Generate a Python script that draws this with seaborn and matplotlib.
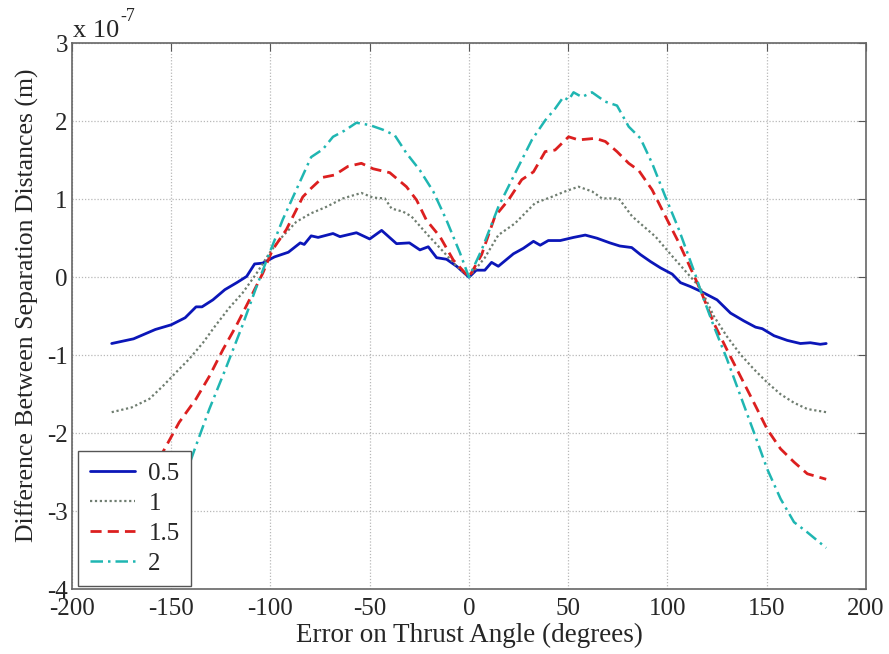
import numpy as np
import seaborn as sns
import matplotlib.pyplot as plt
import pandas as pd

# values, y in units of 1e-7 m
x_05 = [-180, -169, -158, -150, -143, -137.5, -134.5, -129, -123, -117, -112, -108, -104, -98, -91,
        -85, -83, -79.5, -76, -68.5, -65, -56.7, -50, -44, -36.5, -30, -24.7, -20.5, -16.3, -11.3,
        -6.2, 0, 3.7, 8, 11.4, 14.8, 22.4, 27.4, 32.5, 35.9, 40, 46, 52.7, 58.6, 64.5, 71, 76, 82,
        86.4, 91.5, 96.5, 102.4, 106.6, 111.6, 116.7, 125, 131.8, 138.5, 144.4, 147.8, 153.7, 160.4,
        167, 172, 177, 180]
y_05 = [-0.85, -0.79, -0.67, -0.61, -0.52, -0.38, -0.38, -0.29, -0.16, -0.07, 0.01, 0.17, 0.18, 0.26, 0.32,
        0.44, 0.42, 0.53, 0.51, 0.56, 0.52, 0.57, 0.49, 0.60, 0.43, 0.44, 0.35, 0.39, 0.25, 0.23,
        0.14, 0.0, 0.09, 0.09, 0.19, 0.14, 0.30, 0.37, 0.46, 0.41, 0.47, 0.47, 0.51, 0.54, 0.50, 0.44, 0.40, 0.38,
        0.29, 0.20, 0.12, 0.04, -0.07, -0.12, -0.18, -0.29, -0.46, -0.56, -0.64, -0.66, -0.75, -0.81,
        -0.85, -0.84, -0.86, -0.85]

x_1 = [-180, -170, -161, -154, -147.6, -141, -134, -128, -120.7, -114, -107, -100.5, -95.5, -87, -79.5,
       -72, -63.5, -54.2, -48.3, -42.4, -39, -33.2, -29, -21.4, -13, -6.2, 0, 8, 14.8, 23.2, 33.3, 41.7,
       48.5, 55.2, 62, 67, 75.5, 82.2, 89, 94, 102.4, 112.5, 116.7, 123.4, 130, 136.8, 143.6, 150.3, 157,
       163.8, 170.5, 180]
y_1 = [-1.73, -1.67, -1.56, -1.39, -1.22, -1.05, -0.84, -0.63, -0.39, -0.20, 0.05, 0.31, 0.48, 0.71, 0.82,
       0.90, 1.01, 1.08, 1.02, 1.01, 0.88, 0.84, 0.78, 0.56, 0.33, 0.14, 0.0, 0.25, 0.54, 0.69, 0.95, 1.03,
       1.10, 1.16, 1.10, 1.01, 1.01, 0.78, 0.63, 0.52, 0.27, -0.02, -0.14, -0.50, -0.76, -0.99, -1.18, -1.35, -1.50,
       -1.61, -1.69, -1.73]

x_15 = [-180, -170, -163, -154.4, -146, -137.5, -130.8, -124, -117.4, -110.6, -103.9, -99, -92, -83.7, -79.5,
        -73.6, -67.7, -61, -54.2, -48.3, -39.9, -31.5, -26.4, -21.4, -14.6, -7.9, 0, 6.4, 13.1, 19.9, 26.6,
        32.5, 38.4, 43.4, 50.2, 55.2, 63.6, 68.7, 74.6, 80.5, 85.5, 92.3, 99, 105.8, 114.1, 116.7, 123.4,
        130, 136.8, 143.6, 150.3, 157, 163.8, 170.5, 180]
y_15 = [-2.60, -2.52, -2.38, -2.25, -1.86, -1.56, -1.27, -0.93, -0.63, -0.29, 0.05, 0.35, 0.61, 1.03, 1.14,
        1.28, 1.31, 1.42, 1.46, 1.39, 1.34, 1.16, 0.99, 0.73, 0.52, 0.22, 0.0, 0.29, 0.78, 0.99, 1.25,
        1.35, 1.61, 1.63, 1.80, 1.76, 1.78, 1.74, 1.61, 1.46, 1.37, 1.12, 0.78, 0.44, -0.02, -0.17, -0.59,
        -0.93, -1.27, -1.61, -1.95, -2.20, -2.37, -2.52, -2.59]

x_2 = [-180, -170, -160, -150, -143, -138.4, -130.8, -122.7, -114.3, -107.6, -102.5, -96.6, -93.8, -87, -79.5,
       -73.6, -68.5, -62.6, -56.7, -50, -43.3, -37.4, -31.5, -24.7, -18, -11.3, -4.5, 0, 6.4, 14.8, 23.2,
       31.7, 38.4, 43.4, 47.6, 50.2, 52.7, 56.9, 62, 68.7, 74.6, 80.5, 86.4, 92.3, 99, 105.8, 114.1, 116.7,
       123.4, 130, 136.8, 143.6, 150.3, 157, 163.8, 170.5, 180]
y_2 = [-3.50, -3.40, -3.22, -2.92, -2.55, -2.22, -1.69, -1.18, -0.63, -0.16, 0.18, 0.56, 0.74, 1.12, 1.54,
       1.64, 1.80, 1.88, 1.98, 1.95, 1.89, 1.82, 1.59, 1.37, 1.10, 0.73, 0.31, 0.0, 0.35, 0.90, 1.33,
       1.76, 2.01, 2.16, 2.31, 2.27, 2.37, 2.31, 2.37, 2.25, 2.20, 1.93, 1.78, 1.46, 1.03, 0.61, 0.03, -0.17,
       -0.63, -1.05, -1.52, -1.99, -2.46, -2.84, -3.14, -3.27, -3.47]

labels = ["0.5", "1", "1.5", "2"]
xticks = [-200, -150, -100, -50, 0, 50, 100, 150, 200]
yticks = [-4, -3, -2, -1, 0, 1, 2, 3]

sns.set_theme(style="white")
plt.rcParams["font.family"] = ["Liberation Serif", "DejaVu Serif"]
plt.rcParams["axes.unicode_minus"] = False

fig = plt.figure(figsize=(8.89, 6.54), dpi=100)
ax = fig.add_axes([0.081, 0.099, 0.893, 0.835])

series = [(x_05, y_05), (x_1, y_1), (x_15, y_15), (x_2, y_2)]
colors = ["#0b16b8", "#6f7d70", "#dc1f1f", "#1fb6b2"]
styles = ["-", (0, (1, 1.2)), (0, (4, 2.2)), (0, (5, 2, 1, 2))]
widths = [2.0, 1.6, 2.0, 1.8]

for (xs, ys), lab, c, ls, lw in zip(series, labels, colors, styles, widths):
    df = pd.DataFrame({"angle": xs, "diff": ys})
    sns.lineplot(data=df, x="angle", y="diff", ax=ax, color=c, linestyle=ls,
                 linewidth=lw, label=lab, sort=False, estimator=None)

ax.set_xlim(-200, 200)
ax.set_ylim(-4, 3)
ax.set_xticks(xticks)
ax.set_yticks(yticks)
ax.set_xticklabels([str(v) for v in xticks])
ax.set_yticklabels([str(v) for v in yticks])
ax.grid(True, linestyle=(0, (1, 1.5)), color="#b8b8b8", linewidth=0.9)
ax.tick_params(direction="in", length=6, width=0.8, color="#555555",
               top=True, right=True, labelsize=18)
ax.tick_params(axis="x", pad=6)
ax.tick_params(axis="y", pad=3)
for sp in ax.spines.values():
    sp.set_color("#666666")
    sp.set_linewidth(1.2)

ax.set_xlabel("Error on Thrust Angle (degrees)", fontsize=19.5)
ax.set_ylabel("Difference Between Separation Distances (m)", fontsize=18.5)
ax.xaxis.set_label_coords(0.5, -0.062)
ax.yaxis.set_label_coords(-0.041, 0.52)

fig.text(0.082, 0.944, "x 10", fontsize=19)
fig.text(0.135, 0.968, "-7", fontsize=13)

leg = ax.legend(loc="lower left", bbox_to_anchor=(0.008, 0.006), fontsize=18,
                frameon=True, fancybox=False, framealpha=1, edgecolor="#555555",
                handlelength=1.8, labelspacing=0.3, borderpad=0.45, handletextpad=0.55,
                borderaxespad=0.0)
leg.get_frame().set_linewidth(1.0)

fig.savefig("out.png", dpi=100)
